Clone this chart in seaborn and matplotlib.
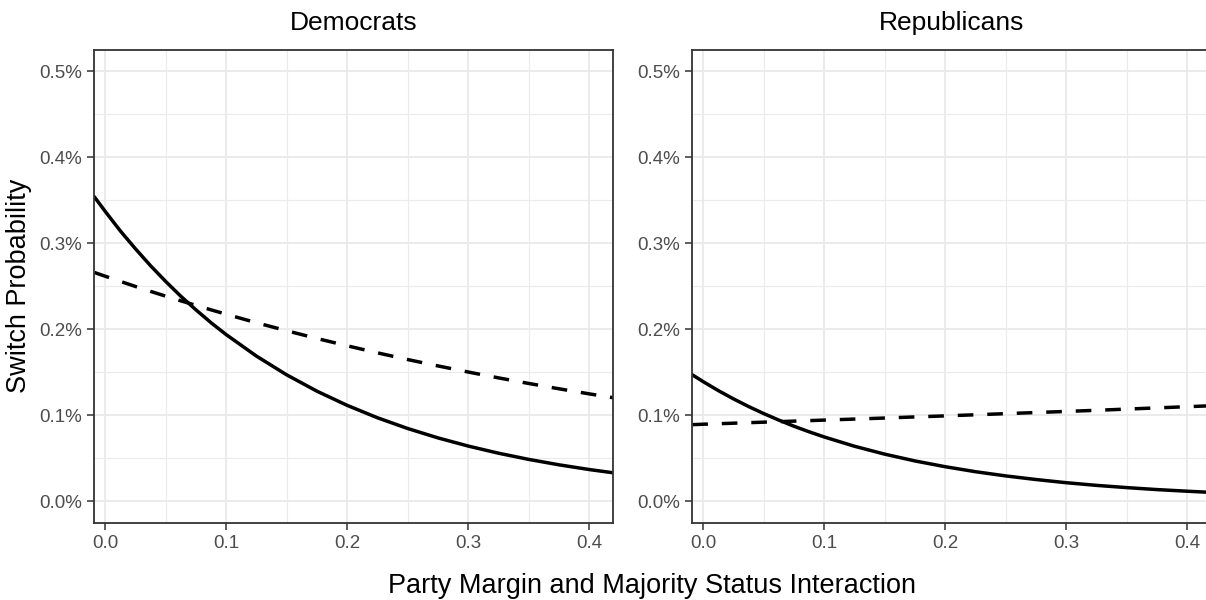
import pandas as pd
import seaborn as sns
import matplotlib.pyplot as plt
from matplotlib.ticker import PercentFormatter, MultipleLocator

# valores (probabilidade em %)
margin = [-0.009, 0.0, 0.0125, 0.025, 0.0375, 0.05, 0.0625, 0.075, 0.0875, 0.1,
          0.125, 0.15, 0.175, 0.2, 0.225, 0.25, 0.275, 0.3, 0.325, 0.35,
          0.375, 0.4, 0.42]

dem_solid = [0.354, 0.337, 0.3143, 0.2935, 0.2738, 0.2555, 0.2383, 0.2225, 0.2075, 0.1937,
             0.1687, 0.1469, 0.1279, 0.1114, 0.0970, 0.0845, 0.0736, 0.0641, 0.0558, 0.0486,
             0.0423, 0.0368, 0.0330]
dem_dashed = [0.266, 0.2616, 0.2556, 0.2497, 0.2440, 0.2384, 0.2330, 0.2277, 0.2225, 0.2174,
              0.2075, 0.1982, 0.1892, 0.1807, 0.1725, 0.1647, 0.1573, 0.1502, 0.1434, 0.1369,
              0.1307, 0.1248, 0.1203]

rep_solid = [0.147, 0.139, 0.1286, 0.1190, 0.1101, 0.1019, 0.0943, 0.0872, 0.0807, 0.0747,
             0.0639, 0.0547, 0.0468, 0.0401, 0.0343, 0.0294, 0.0252, 0.0215, 0.0184, 0.0158,
             0.0135, 0.0116, 0.0102]
rep_dashed = [0.0890, 0.0895, 0.0901, 0.0907, 0.0913, 0.0919, 0.0925, 0.0931, 0.0937, 0.0943,
              0.0955, 0.0967, 0.0980, 0.0992, 0.1005, 0.1018, 0.1031, 0.1044, 0.1057, 0.1071,
              0.1085, 0.1099, 0.1110]

panels = ["Democrats", "Republicans"]

rows = []
for panel, solid, dashed in [("Democrats", dem_solid, dem_dashed),
                             ("Republicans", rep_solid, rep_dashed)]:
    for x, a, b in zip(margin, solid, dashed):
        rows.append({"panel": panel, "margin": x, "prob": a, "line": "solid"})
        rows.append({"panel": panel, "margin": x, "prob": b, "line": "dashed"})
df = pd.DataFrame(rows)

sns.set_theme(style="white")
plt.rcParams['font.family'] = ['Liberation Sans', 'DejaVu Sans']

fig = plt.figure(figsize=(12.06, 6.0), dpi=100)
W, H = 1206, 600
positions = [(94.3, 49.7, 613.0, 522.7), (692.3, 49.7, 1211.0, 522.7)]

for panel, (x0, y0, x1, y1) in zip(panels, positions):
    ax = fig.add_axes([x0 / W, 1 - y1 / H, (x1 - x0) / W, (y1 - y0) / H])
    ax.set_facecolor("white")
    sns.lineplot(data=df[df["panel"] == panel], x="margin", y="prob", style="line",
                 dashes={"solid": "", "dashed": (4.5, 4)}, color="black",
                 linewidth=2.5, legend=False, ax=ax)
    ax.set_xlim(-0.009, 0.4196)
    ax.set_ylim(-0.025, 0.525)
    ax.xaxis.set_major_locator(MultipleLocator(0.1))
    ax.xaxis.set_minor_locator(MultipleLocator(0.05))
    ax.yaxis.set_major_locator(MultipleLocator(0.1))
    ax.yaxis.set_minor_locator(MultipleLocator(0.05))
    ax.yaxis.set_major_formatter(PercentFormatter(xmax=100, decimals=1))
    ax.grid(which="major", color="#EBEBEB", linewidth=1.4)
    ax.grid(which="minor", color="#EBEBEB", linewidth=0.8)
    ax.set_axisbelow(True)
    for s in ax.spines.values():
        s.set_color("#333333")
        s.set_linewidth(1.3)
    ax.tick_params(which="major", length=5, width=1.1, color="#333333",
                   labelsize=13.5, labelcolor="#4D4D4D", pad=3.5,
                   bottom=True, left=True)
    ax.tick_params(which="minor", length=0)
    ax.set_xlabel("")
    ax.set_ylabel("")
    ax.set_title(panel, fontsize=19, pad=14, color="black")

fig.text(652 / W, 7 / H, "Party Margin and Majority Status Interaction",
         ha="center", va="baseline", fontsize=19.5, color="black")
fig.text(19 / W, 1 - 286 / H, "Switch Probability", rotation=90,
         ha="center", va="center", fontsize=19.5, color="black")

fig.savefig("out.png", dpi=100)
